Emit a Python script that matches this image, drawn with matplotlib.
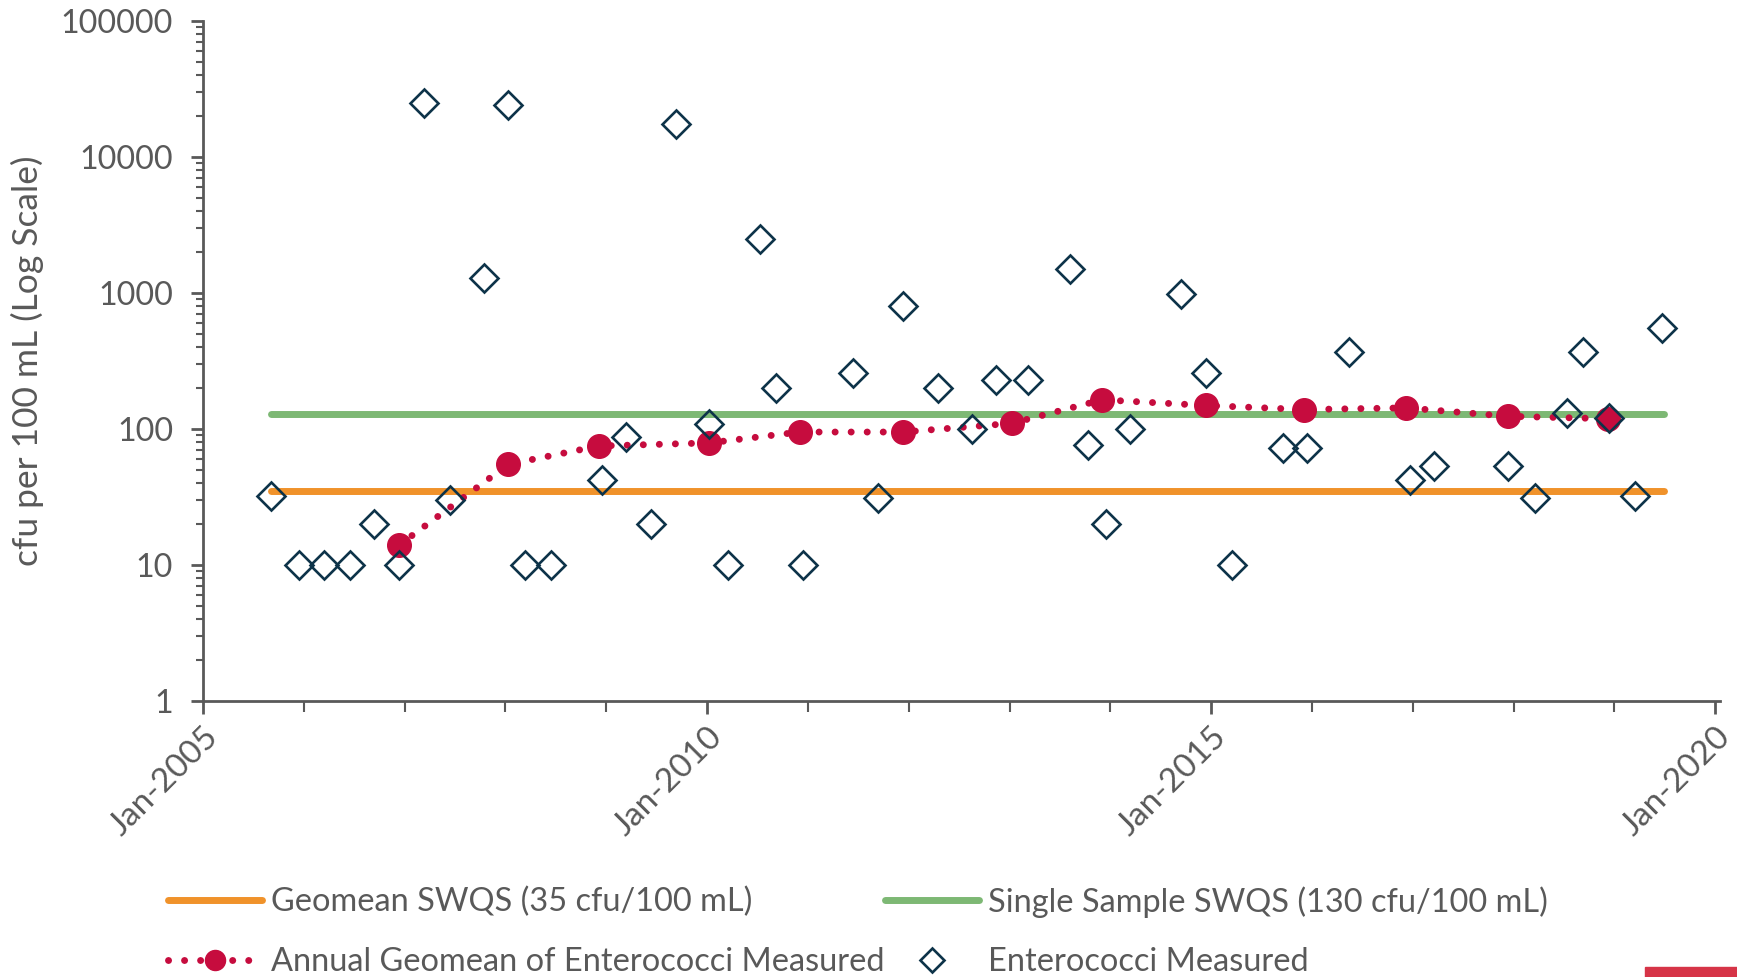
import datetime as dt
import matplotlib
matplotlib.use("Agg")
import matplotlib.pyplot as plt
import matplotlib.dates as mdates
from matplotlib.ticker import LogLocator, NullFormatter, FixedLocator, FixedFormatter
from matplotlib.patches import Rectangle

# data
sample_dates = ["2005-09-05", "2005-12-15", "2006-03-15", "2006-06-18", "2006-09-12", "2006-12-12",
                "2007-03-14", "2007-06-14", "2007-10-15", "2008-01-12", "2008-03-14", "2008-06-14",
                "2008-12-16", "2009-03-14", "2009-06-10", "2009-09-12", "2010-01-08", "2010-03-17",
                "2010-07-12", "2010-09-08", "2010-12-16", "2011-06-14", "2011-09-12", "2011-12-12",
                "2012-04-16", "2012-08-18", "2012-11-14", "2013-03-10", "2013-08-08", "2013-10-12",
                "2013-12-16", "2014-03-14", "2014-09-12", "2014-12-12", "2015-03-18", "2015-09-20",
                "2015-12-16", "2016-05-14", "2016-12-20", "2017-03-18", "2017-12-12", "2018-03-20",
                "2018-07-12", "2018-09-10", "2018-12-14", "2019-03-18", "2019-06-24"]
sample_values = [32, 10, 10, 10, 20, 10,
                 25000, 30, 1300, 24000, 10, 10,
                 42, 88, 20, 17500, 108, 10,
                 2500, 200, 10, 260, 31, 800,
                 200, 100, 230, 230, 1500, 76,
                 20, 100, 980, 260, 10, 73,
                 73, 370, 42, 53, 53, 31,
                 131, 370, 120, 32, 550]

geomean_dates = ["2006-12-12", "2008-01-12", "2008-12-05", "2010-01-08", "2010-12-02", "2011-12-12",
                 "2013-01-08", "2013-12-02", "2014-12-12", "2015-12-05", "2016-12-08", "2017-12-12",
                 "2018-12-10"]
geomean_values = [14, 55, 75, 79, 95, 95, 110, 164, 149, 139, 143, 124, 119]

swqs_span = ["2005-09-05", "2019-07-01"]
geomean_swqs = 35
single_swqs = 130

year_ticks = ["2005-01-01", "2010-01-01", "2015-01-01", "2020-01-01"]
year_labels = ["Jan-2005", "Jan-2010", "Jan-2015", "Jan-2020"]


def to_dates(items):
    return [dt.datetime.strptime(s, "%Y-%m-%d") for s in items]


grey = "#595959"
plt.rcParams["font.family"] = ["Lato", "DejaVu Sans"]

fig = plt.figure(figsize=(17.37, 9.77), dpi=100)
ax = fig.add_axes([0.1169, 0.2825, 0.8731, 0.696])

span = to_dates(swqs_span)
l1, = ax.plot(span, [geomean_swqs] * 2, color="#F0922A", lw=5, solid_capstyle="round",
              label="Geomean SWQS (35 cfu/100 mL)")
l2, = ax.plot(span, [single_swqs] * 2, color="#7DB874", lw=5, solid_capstyle="round",
              label="Single Sample SWQS (130 cfu/100 mL)")
l3, = ax.plot(to_dates(geomean_dates), geomean_values, color="#C60C3E", lw=5,
              linestyle=(0, (0.01, 2.3)), dash_capstyle="round", marker="o", markersize=17,
              label="Annual Geomean of Enterococci Measured", zorder=3)
l4, = ax.plot(to_dates(sample_dates), sample_values, linestyle="none", marker="D", markersize=14,
              markerfacecolor="none", markeredgecolor="#0D3349", markeredgewidth=1.9,
              label="Enterococci Measured", zorder=4)

ax.set_yscale("log")
ax.set_ylim(1, 100000)
ax.set_xlim(dt.datetime(2005, 1, 1), dt.datetime(2020, 1, 17))

ax.yaxis.set_minor_locator(LogLocator(base=10, subs=range(2, 10), numticks=10))
ax.yaxis.set_minor_formatter(NullFormatter())
ax.set_yticks([1, 10, 100, 1000, 10000, 100000])
ax.set_yticklabels(["1", "10", "100", "1000", "10000", "100000"])

ax.xaxis.set_major_locator(FixedLocator(mdates.date2num(to_dates(year_ticks))))
ax.xaxis.set_major_formatter(FixedFormatter(year_labels))
ax.xaxis.set_minor_locator(mdates.YearLocator(1))

for s in ["top", "right"]:
    ax.spines[s].set_visible(False)
for s in ["left", "bottom"]:
    ax.spines[s].set_color(grey)
    ax.spines[s].set_linewidth(2)
ax.spines["left"].set_bounds(1, 100000)

ax.tick_params(axis="both", which="major", colors=grey, width=2, length=9, pad=6)
ax.tick_params(axis="y", which="major", labelsize=23.2, pad=12.5)
ax.tick_params(axis="x", which="major", labelsize=24)
ax.tick_params(axis="both", which="minor", colors=grey, width=1.5, length=5)
ax.tick_params(axis="x", which="minor", length=8)
for lab in ax.get_xticklabels():
    lab.set_rotation(45)
    lab.set_ha("right")
    lab.set_va("top")
    lab.set_rotation_mode("anchor")

ax.set_ylabel("cfu per 100 mL (Log Scale)", fontsize=25.5, color=grey, labelpad=12)

fig.legend(handles=[l1, l3, l2, l4], ncol=2, loc="upper left", bbox_to_anchor=(0.0967, 0.0931),
           frameon=False, fontsize=23.4, handlelength=2.9, handletextpad=0.28, labelspacing=0.9,
           columnspacing=0.0, borderpad=0, borderaxespad=0, labelcolor=grey, markerscale=0.85)

fig.patches.append(Rectangle((1645 / 1737, 0), 92 / 1737, 10 / 977, transform=fig.transFigure,
                             color="#D63447", zorder=5))

fig.savefig("out.png", dpi=100)
